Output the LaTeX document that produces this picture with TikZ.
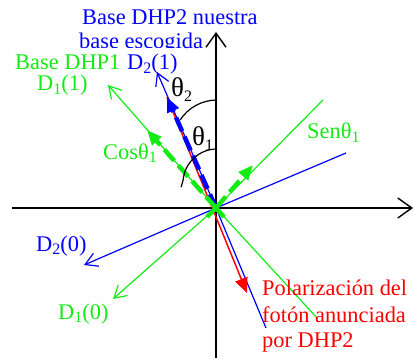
\documentclass[tikz,border=0pt]{standalone}
\usepackage{fontspec}
\setmainfont{Liberation Serif}
\usetikzlibrary{arrows.meta}
\definecolor{gr}{RGB}{20,235,20}
\definecolor{bl}{RGB}{0,0,255}
\definecolor{rd}{RGB}{255,0,0}
\newcommand\sbx[1]{\raisebox{-0.35ex}{\fontsize{16}{16}\selectfont #1}}
\begin{document}
\begin{tikzpicture}[x=1pt,y=-1pt,
  lab/.style={font=\fontsize{22.4}{25}\selectfont, inner sep=0pt, anchor=base west},
  anglab/.style={font=\fontsize{27}{28}\selectfont, inner sep=0pt, anchor=base west},
  axis/.style={line width=1.4pt, -{Straight Barb[length=14pt,width=20pt,line width=1.4pt]}},
  vec/.style={line width=1.2pt, -{Straight Barb[length=12pt,width=14pt,line width=1.2pt]}},
  thickv/.style={line width=4.5pt, dash pattern=on 15pt off 6pt, -{Triangle[length=15pt,width=12pt]}},
  angarc/.style={line width=1.2pt, black}]
\useasboundingbox (0,0) rectangle (414,358);
% texts at top (partly covered)
\node[lab, bl] (t2a) at (82,25) {Base DHP2 nuestra};
\node[lab, bl] (t2b) at (79,49) {base escogida};
\fill[white] (8,48) rectangle (182,78);
% coordinates
\coordinate (O) at (216,208);
\coordinate (xl) at (12,208);
\coordinate (xr) at (413,208);
\coordinate (yb) at (216,358);
\coordinate (yt) at (216,32);
\coordinate (g1u) at (108,85);
\coordinate (g1d) at (317,318);
\coordinate (g0u) at (323,100);
\coordinate (g0d) at (113,299);
\coordinate (b1u) at (157,72);
\coordinate (b1d) at (266,328);
\coordinate (b0u) at (346,153);
\coordinate (b0d) at (84,265);
\coordinate (ru) at (167,97);
\coordinate (rd) at (247,293);
\coordinate (gpu) at (147,130);
\coordinate (gpr) at (253,165);
\coordinate (gsl) at (207,217);
\coordinate (gsr) at (224,217);
% axes
\draw[axis] (xl) -- (xr);
\draw[axis] (yb) -- (yt);
% green basis
\draw[vec, gr] (O) -- (g1u);
\draw[line width=1.2pt, gr] (O) -- (g1d);
\draw[line width=1.2pt, gr] (O) -- (g0u);
\draw[vec, gr] (O) -- (g0d);
% blue basis
\draw[vec, bl] (O) -- (b1u);
\draw[line width=1.2pt, bl] (O) -- (b1d);
\draw[line width=1.2pt, bl] (O) -- (b0u);
\draw[vec, bl] (O) -- (b0d);
% red polarization
\draw[line width=1.5pt, rd, -{Triangle[length=15pt,width=13pt]}] (ru) -- (rd);
% thick projections
\draw[thickv, bl] (O) -- (ru);
\draw[thickv, gr] (O) -- (gpu);
\draw[thickv, gr] (O) -- (gpr);
\draw[line width=4.5pt, gr] (O) -- (gsl);
\draw[line width=4.5pt, gr] (O) -- (gsr);
% angle arcs
\draw[angarc] (217,100) arc[start angle=-90, end angle=-147, radius=44];
\draw[angarc] (217,149) arc[start angle=-90, end angle=-175, radius=34] -- ++(-2,7);
% labels
\node[lab, gr] (l1) at (15,70) {Base DHP1};
\node[lab, bl] (l2) at (127,70) {D\sbx{2}(1)};
\node[lab, gr] (l3) at (37,91) {D\sbx{1}(1)};
\node[anglab] (th2) at (171,97) {θ\sbx{2}};
\node[anglab] (th1) at (192,146) {θ\sbx{1}};
\node[lab, gr] (cos) at (103,159) {Cosθ\sbx{1}};
\node[lab, gr] (sen) at (307,139) {Senθ\sbx{1}};
\node[lab, bl] (d20) at (36,251) {D\sbx{2}(0)};
\node[lab, gr] (d10) at (58,319) {D\sbx{1}(0)};
\node[lab, rd] (p1) at (262,295) {Polarización del};
\node[lab, rd] (p2) at (262,322) {fotón anunciada};
\node[lab, rd] (p3) at (262,347) {por DHP2};
\end{tikzpicture}
\end{document}
